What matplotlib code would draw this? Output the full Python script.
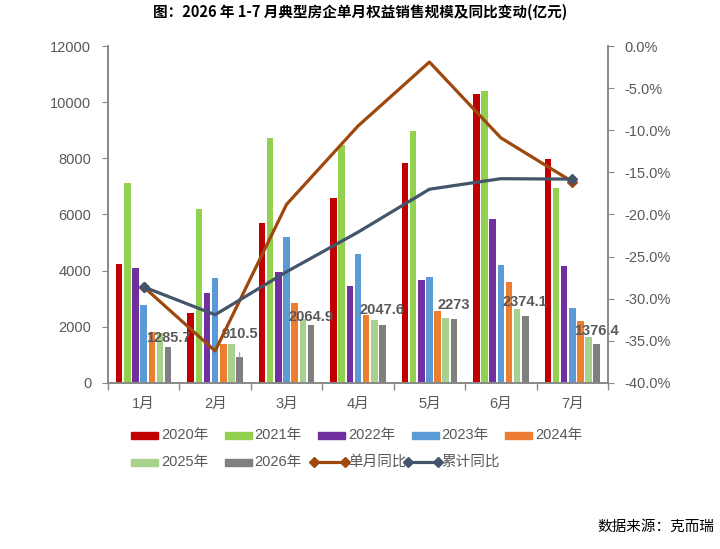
import numpy as np
import matplotlib
matplotlib.use('Agg')
import matplotlib.pyplot as plt
from matplotlib.patches import Rectangle
from matplotlib.lines import Line2D

plt.rcParams['font.family'] = ['Liberation Sans', 'Noto Sans CJK SC', 'DejaVu Sans']

# data (亿元)
months = ['1月', '2月', '3月', '4月', '5月', '6月', '7月']
years = ['2020年', '2021年', '2022年', '2023年', '2024年', '2025年', '2026年']
v2020 = [4250, 2480, 5690, 6580, 7840, 10290, 7970]
v2021 = [7110, 6180, 8720, 8480, 8990, 10410, 6930]
v2022 = [4100, 3220, 3960, 3460, 3680, 5840, 4180]
v2023 = [2770, 3740, 5190, 4590, 3780, 4210, 2680]
v2024 = [1800, 1380, 2850, 2410, 2550, 3610, 2220]
v2025 = [1780, 1400, 2270, 2240, 2300, 2650, 1630]
v2026 = [1285.7, 910.5, 2064.9, 2047.6, 2273, 2374.1, 1376.4]
yoy_month = [-28.6, -36.2, -18.8, -9.5, -1.9, -10.9, -16.1]
yoy_cum = [-28.6, -31.9, -26.8, -22.1, -17.0, -15.75, -15.8]
line_names = ['单月同比', '累计同比']

bar_colors = ['#C00000', '#92D050', '#7030A0', '#5B9BD5', '#ED7D31', '#A9D18E', '#7F7F7F']
c_month = '#9E480E'
c_cum = '#44546A'
txt = '#595959'
axc = '#888888'

W, H = 720, 549
fig = plt.figure(figsize=(7.2, 5.49), dpi=100)
ax = fig.add_axes([0.15, 0.3024, 0.6944, 0.6138])
ax2 = ax.twinx()

x = np.arange(len(months))
series = [v2020, v2021, v2022, v2023, v2024, v2025, v2026]
slot = 0.8 / 7
for k, vals in enumerate(series):
    ax.bar(x - 0.4 + slot * (k + 0.5), vals, width=slot * 0.8, color=bar_colors[k], zorder=2)

# labels on 2026 bars
label_dy = [9, 23, 8, 15, 14, 14, 13]
gx = x - 0.4 + slot * 6.5
for i, v in enumerate(v2026):
    s = ('%.1f' % v).rstrip('0').rstrip('.')
    arrow = None
    if label_dy[i] > 18:
        arrow = dict(arrowstyle='-', color='#999999', lw=0.7, shrinkA=6, shrinkB=0)
    ax.annotate(s, (gx[i], v), xytext=(0, label_dy[i] * 0.72), textcoords='offset points',
                ha='center', va='center', fontsize=10.5, color=txt, fontweight='bold', zorder=5,
                arrowprops=arrow)

ax2.plot(x, yoy_month, color=c_month, lw=2.3, marker='D', ms=5, markevery=[0, 6], zorder=3)
ax2.plot(x, yoy_cum, color=c_cum, lw=2.3, marker='D', ms=5, markevery=[0, 6], zorder=4)

ax.set_xlim(-0.5, 6.5)
ax.set_ylim(0, 12000)
ax.set_yticks(range(0, 12001, 2000))
ax2.set_ylim(-40, 0)
ax2.set_yticks(np.arange(-40, 0.1, 5))
ax2.set_yticklabels(['%.1f%%' % t for t in np.arange(-40, 0.1, 5)])

ax.set_xticks(x)
ax.set_xticklabels(months)
ax.set_xticks(np.arange(-0.5, 7, 1), minor=True)
ax.tick_params(axis='x', which='major', length=0, pad=10, labelsize=10.5, labelcolor=txt)
ax.tick_params(axis='x', which='minor', length=5, color=axc, width=1)
ax.tick_params(axis='y', length=4, color=axc, labelsize=10.5, labelcolor=txt, pad=8)
ax2.tick_params(axis='y', length=4, color=axc, labelsize=10.5, labelcolor=txt, pad=8)

for a in (ax, ax2):
    a.spines['top'].set_visible(False)
    for sp in ('left', 'right', 'bottom'):
        a.spines[sp].set_color(axc)
        a.spines[sp].set_linewidth(1.2)

fig.text(0.5, 0.978, '图：2026 年 1-7 月典型房企单月权益销售规模及同比变动(亿元)',
         ha='center', va='center', fontsize=10.5, fontweight='bold',
         family=['Noto Sans CJK SC', 'DejaVu Sans'])

# legend drawn by hand: fixed-width columns like Excel
col_w = 93.5
x0 = 131
rows_y = [435, 462]
entries = [('bar', bar_colors[k], years[k]) for k in range(7)]
entries += [('line', c_month, line_names[0]), ('line', c_cum, line_names[1])]
for n, (kind, col, name) in enumerate(entries):
    r, c = divmod(n, 5)
    px = x0 + col_w * c
    py = rows_y[r]
    if kind == 'bar':
        fig.add_artist(Rectangle((px / W, 1 - (py + 3.5) / H), 27 / W, 7 / H,
                                 transform=fig.transFigure, color=col))
        tx = px + 30
    else:
        px -= 4
        fig.add_artist(Line2D([px / W, (px + 31) / W], [1 - py / H, 1 - py / H],
                              transform=fig.transFigure, color=col, lw=2.3,
                              marker='D', ms=5))
        tx = px + 34
    fig.text(tx / W, 1 - py / H, name, ha='left', va='center', fontsize=10.5, color=txt)

fig.text(597 / W, 1 - 527 / H, '数据来源：克而瑞', ha='left', va='center', fontsize=10.5,
         family=['Noto Sans CJK SC', 'DejaVu Sans'])

fig.savefig('out.png', dpi=100)
